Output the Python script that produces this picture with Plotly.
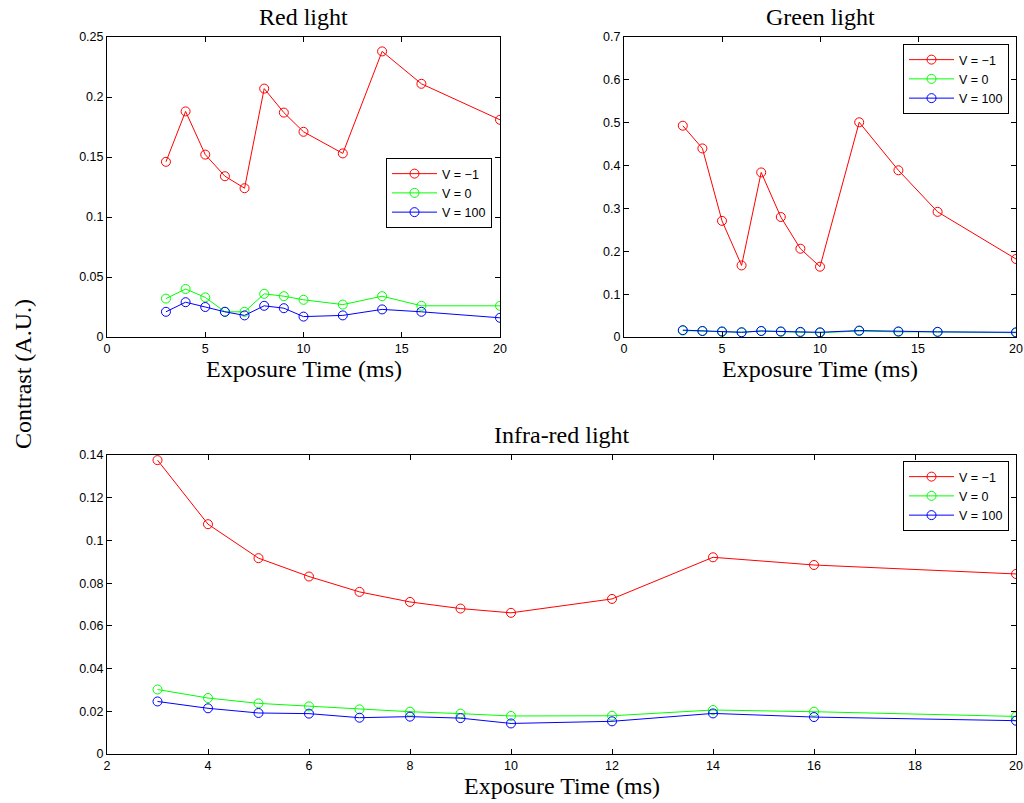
import plotly.graph_objects as go

W, H = 1024, 803

# ---------------- data ----------------
x_times = [3, 4, 5, 6, 7, 8, 9, 10, 12, 14, 16, 20]
series_names = ["V = \u22121", "V = 0", "V = 100"]

red_vm1 = [0.146, 0.188, 0.152, 0.134, 0.124, 0.207, 0.187, 0.171, 0.153, 0.238, 0.211, 0.181]
red_v0 = [0.032, 0.040, 0.033, 0.021, 0.021, 0.036, 0.034, 0.031, 0.027, 0.034, 0.026, 0.026]
red_v100 = [0.021, 0.029, 0.025, 0.021, 0.018, 0.026, 0.024, 0.017, 0.018, 0.023, 0.021, 0.016]

green_vm1 = [0.493, 0.440, 0.271, 0.167, 0.384, 0.280, 0.206, 0.164, 0.501, 0.389, 0.292, 0.182]
green_v0 = [0.015, 0.014, 0.012, 0.011, 0.014, 0.012, 0.011, 0.010, 0.014, 0.012, 0.012, 0.010]
green_v100 = [0.016, 0.014, 0.013, 0.011, 0.014, 0.013, 0.012, 0.011, 0.015, 0.013, 0.012, 0.011]

ir_vm1 = [0.1376, 0.1076, 0.0917, 0.0831, 0.0759, 0.0712, 0.0681, 0.0661, 0.0726, 0.0921, 0.0885, 0.0843]
ir_v0 = [0.0302, 0.0262, 0.0237, 0.0223, 0.0209, 0.0198, 0.0189, 0.0178, 0.0179, 0.0206, 0.0198, 0.0176]
ir_v100 = [0.0246, 0.0214, 0.0192, 0.0189, 0.0170, 0.0175, 0.0168, 0.0143, 0.0153, 0.0190, 0.0173, 0.0156]

titles = ["Red light", "Green light", "Infra-red light"]
xlabel = "Exposure Time (ms)"
ylabel = "Contrast (A.U.)"

colors = ["#ff0000", "#00ff00", "#0000ff"]

# ---------------- layout helpers ----------------
def px_x(p):
    return p / W

def px_y(p):
    return 1 - p / H

fig = go.Figure()

panels = [
    ("x", "y", "legend", [red_vm1, red_v0, red_v100], [0, 20], [0, 0.25], 5, 0.05, (107, 500, 37, 337)),
    ("x2", "y2", "legend2", [green_vm1, green_v0, green_v100], [0, 20], [0, 0.7], 5, 0.1, (624, 1016, 37, 337)),
    ("x3", "y3", "legend3", [ir_vm1, ir_v0, ir_v100], [2, 20], [0, 0.14], 2, 0.02, (107, 1016, 455, 754)),
]

font_ticks = dict(family="Liberation Sans, Arial, sans-serif", size=12.5, color="black")
font_serif = "Liberation Serif, Times New Roman, serif"
serif_size = 24

layout = dict(
    width=W, height=H,
    margin=dict(l=0, r=0, t=0, b=0),
    paper_bgcolor="white", plot_bgcolor="white",
    annotations=[],
)

legend_pos = [(386, 158), (903, 44), (903, 461)]

for i, (xa, ya, lg, data, xr, yr, dx, dy, box) in enumerate(panels):
    for j, vals in enumerate(data):
        fig.add_trace(go.Scatter(
            x=x_times, y=vals, name=series_names[j],
            mode="lines+markers",
            line=dict(color=colors[j], width=1),
            marker=dict(symbol="circle-open", size=9, color=colors[j],
                        line=dict(width=1, color=colors[j])),
            xaxis=xa, yaxis=ya, legend=lg,
        ))
    x0, x1, y0, y1 = box
    axis_common = dict(
        showgrid=False, zeroline=False, showline=True, linecolor="black", linewidth=1,
        mirror="ticks", ticks="inside", ticklen=5, tickcolor="black", tickwidth=1,
        tickfont=font_ticks, automargin=False, ticklabeloverflow="allow",
    )
    xkey = "xaxis" if xa == "x" else "xaxis" + xa[1:]
    ykey = "yaxis" if ya == "y" else "yaxis" + ya[1:]
    layout[xkey] = dict(axis_common, domain=[px_x(x0), px_x(x1)], range=xr, dtick=dx,
                        tick0=0, anchor=ya)
    layout[ykey] = dict(axis_common, domain=[px_y(y1), px_y(y0)], range=yr, dtick=dy,
                        tick0=0, anchor=xa)
    layout["annotations"].append(dict(
        text=titles[i], x=px_x((x0 + x1) / 2), y=px_y(y0 - 5), xref="paper", yref="paper",
        xanchor="center", yanchor="bottom", showarrow=False,
        font=dict(family=font_serif, size=serif_size, color="black")))
    layout["annotations"].append(dict(
        text=xlabel, x=px_x((x0 + x1) / 2), y=px_y(y1 + 17), xref="paper", yref="paper",
        xanchor="center", yanchor="top", showarrow=False,
        font=dict(family=font_serif, size=serif_size, color="black")))
    lx, ly = legend_pos[i]
    layout[lg] = dict(
        x=px_x(lx), y=px_y(ly), xanchor="left", yanchor="top",
        bgcolor="white", bordercolor="black", borderwidth=1,
        font=dict(family="Liberation Sans, Arial, sans-serif", size=12.5, color="black"),
        tracegroupgap=0, itemwidth=45,
    )

layout["annotations"].append(dict(
    text=ylabel, x=px_x(23), y=px_y(374), xref="paper", yref="paper",
    xanchor="center", yanchor="middle", showarrow=False, textangle=-90,
    font=dict(family=font_serif, size=serif_size, color="black")))

fig.update_layout(**layout)
fig.write_html("out.html")
